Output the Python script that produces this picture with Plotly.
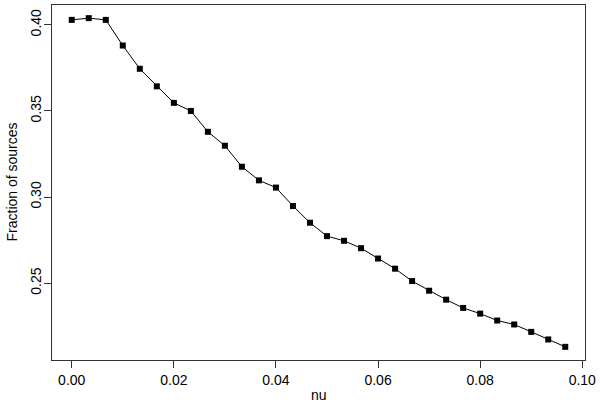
import plotly.graph_objects as go

# nu values: 30 steps of 1/300
nu = [i / 300 for i in range(30)]
fraction = [
    0.4029, 0.4039, 0.4029, 0.3880, 0.3745, 0.3643, 0.3547, 0.3500, 0.3379, 0.3298,
    0.3176, 0.3097, 0.3055, 0.2948, 0.2851, 0.2773, 0.2746, 0.2703, 0.2643, 0.2584,
    0.2512, 0.2456, 0.2404, 0.2356, 0.2323, 0.2283, 0.2260, 0.2217, 0.2173, 0.2130,
]
x_ticks = [0.00, 0.02, 0.04, 0.06, 0.08, 0.10]
y_ticks = [0.25, 0.30, 0.35, 0.40]

FONT = "Liberation Sans, Arial, Helvetica, sans-serif"


def _pad(lo, hi, frac=0.04):
    d = (hi - lo) * frac
    return [lo - d, hi + d]


fig = go.Figure()
fig.add_trace(
    go.Scatter(
        x=nu,
        y=fraction,
        mode="lines+markers",
        line=dict(color="black", width=1),
        marker=dict(symbol="square", size=6, color="black"),
        showlegend=False,
        cliponaxis=False,
    )
)

axis_common = dict(
    showgrid=False,
    zeroline=False,
    showline=True,
    mirror=True,
    linecolor="#333333",
    linewidth=1,
    ticks="outside",
    ticklen=7,
    tickwidth=1,
    tickcolor="#333333",
    tickfont=dict(size=14, color="black", family=FONT),
)

fig.update_layout(
    width=600,
    height=405,
    paper_bgcolor="white",
    plot_bgcolor="white",
    margin=dict(l=52, r=13, t=4, b=45),
    font=dict(family=FONT, color="black"),
    xaxis=dict(
        axis_common,
        range=_pad(min(nu), max(nu)),
        tickvals=x_ticks,
        ticktext=[f"{v:.2f}" for v in x_ticks],
    ),
    yaxis=dict(
        axis_common,
        range=_pad(min(fraction), max(fraction)),
        tickvals=y_ticks,
        ticktext=[f"{v:.2f}" for v in y_ticks],
        tickangle=-90,
        ticklabelstandoff=-3,
    ),
)

# axis titles placed as annotations (R-style fixed line offsets)
fig.add_annotation(
    text="nu", xref="paper", yref="paper", x=0.5, y=0,
    xanchor="center", yanchor="middle", yshift=-35,
    showarrow=False, font=dict(size=14),
)
fig.add_annotation(
    text="Fraction of sources", xref="paper", yref="paper", x=0, y=0.5,
    xanchor="center", yanchor="middle", xshift=-41, textangle=-90,
    showarrow=False, font=dict(size=14),
)

# page body has an 8px default margin; drop it so the figure sits at 0,0
fig.write_html(
    "out.html",
    config={"displayModeBar": False},
    post_script="document.body.style.margin='0';",
)
